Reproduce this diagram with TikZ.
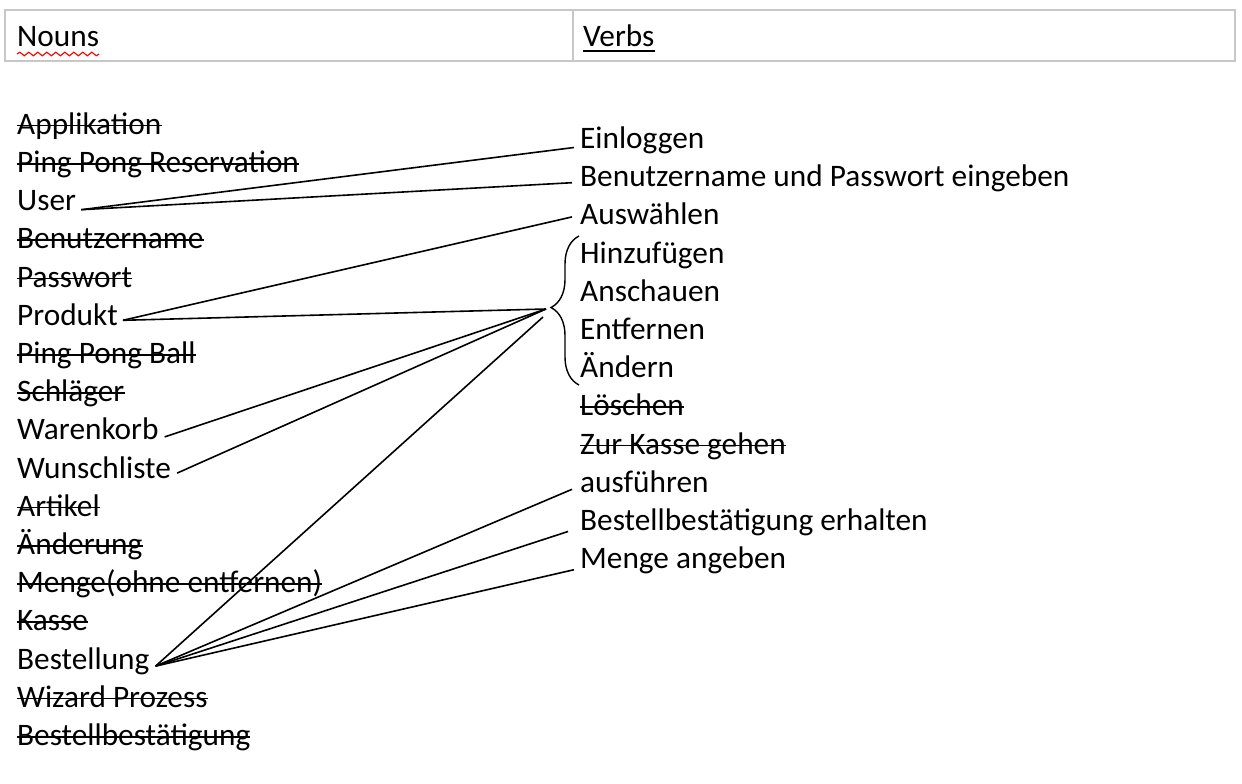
\documentclass[tikz,border=0pt]{standalone}
\usepackage{fontspec}
\setmainfont{Carlito}
\usetikzlibrary{calc,decorations.pathreplacing,decorations.pathmorphing}
\begin{document}
\begin{tikzpicture}[x=1pt,y=-1pt,
  word/.style={anchor=base west,inner sep=0pt,font=\fontsize{31.3}{37}\selectfont},
  link/.style={line width=1.6pt,black},
  strike/.style={line width=1.6pt,black},
  frame/.style={draw=black!22,line width=1.5pt}]
\useasboundingbox (0,0) rectangle (1242,784);

% header table
\draw[frame] (5,10) rectangle (1235,61);
\draw[frame] (573,10) -- (573,61);
\node[word] (hn) at (17,47) {Nouns};
\node[word] (hv) at (583,47) {Verbs};
\draw[red,line width=1.1pt,decorate,decoration={snake,segment length=9pt,amplitude=1.8pt}]
  ($(hn.base west)+(0,7)$) -- ($(hn.base east)+(0,7)$);
\draw[line width=1.6pt] ($(hv.base west)+(0,4)$) -- ($(hv.base east)+(0,4)$);

% nouns (1 = struck out)
\foreach \nm/\tx/\st [count=\i from 0] in {
  applikation/Applikation/1,
  reservation/Ping Pong Reservation/1,
  user/User/0,
  benutzername/Benutzername/1,
  passwort/Passwort/1,
  produkt/Produkt/0,
  ball/Ping Pong Ball/1,
  schlaeger/Schläger/1,
  warenkorb/Warenkorb/0,
  wunschliste/Wunschliste/0,
  artikel/Artikel/1,
  aenderung/Änderung/1,
  menge/Menge(ohne entfernen)/1,
  kasse/Kasse/1,
  bestellung/Bestellung/0,
  wizard/Wizard Prozess/1,
  bestaetigung/Bestellbestätigung/1}{
  \node[word] (\nm) at (17,134.3+38.2*\i) {\tx};
  \ifnum\st=1
    \draw[strike] ($(\nm.base west)+(0,-8.8)$) -- ($(\nm.base east)+(0,-8.8)$);
  \fi
}

% verbs (1 = struck out)
\foreach \nm/\tx/\st [count=\i from 0] in {
  einloggen/Einloggen/0,
  eingeben/Benutzername und Passwort eingeben/0,
  auswaehlen/Auswählen/0,
  hinzufuegen/Hinzufügen/0,
  anschauen/Anschauen/0,
  entfernen/Entfernen/0,
  aendern/Ändern/0,
  loeschen/Löschen/1,
  zurkasse/Zur Kasse gehen/1,
  ausfuehren/ausführen/0,
  erhalten/Bestellbestätigung erhalten/0,
  mengeangeben/Menge angeben/0}{
  \node[word] (\nm) at (580,148.5+38.2*\i) {\tx};
  \ifnum\st=1
    \draw[strike] ($(\nm.base west)+(0,-8.8)$) -- ($(\nm.base east)+(0,-8.8)$);
  \fi
}

% brace grouping Hinzufügen .. Ändern
\coordinate (braceBot) at (579,385);
\coordinate (braceTop) at (579,236);
\draw[line width=1.4pt,decorate,decoration={brace,amplitude=28pt,aspect=0.52}]
  (braceBot) -- (braceTop);
\coordinate (hub) at (546,309);
\coordinate (hubLow) at (543,317);

% connectors
\draw[link] ($(user.base east)+(5,-1)$) -- ($(einloggen.base west)+(-6,-1)$);
\draw[link] ($(user.base east)+(5,-1)$) -- ($(eingeben.base west)+(-8,-4)$);
\draw[link] ($(produkt.base east)+(5,-5)$) -- ($(auswaehlen.base west)+(-8,-8)$);
\draw[link] ($(produkt.base east)+(5,-5)$) -- (hub);
\draw[link] ($(warenkorb.base east)+(6,-3)$) -- (hub);
\draw[link] ($(wunschliste.base east)+(6,-5)$) -- (hub);
\draw[link] ($(bestellung.base east)+(6,-3)$) -- (hubLow);
\draw[link] ($(bestellung.base east)+(6,-3)$) -- ($(ausfuehren.base west)+(-8,-3)$);
\draw[link] ($(bestellung.base east)+(6,-3)$) -- ($(erhalten.base west)+(-12,1)$);
\draw[link] ($(bestellung.base east)+(6,-3)$) -- ($(mengeangeben.base west)+(-6,1)$);
\end{tikzpicture}
\end{document}
